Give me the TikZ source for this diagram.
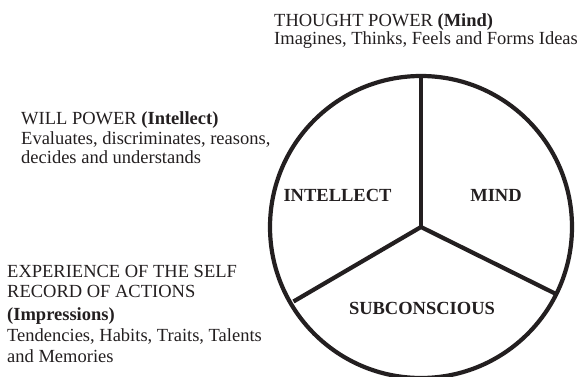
\documentclass[tikz,border=0pt]{standalone}
\usepackage{fontspec}
\setmainfont{Liberation Serif}
\definecolor{ink}{HTML}{231F20}
\begin{document}
\begin{tikzpicture}[x=1pt,y=-1pt,
  txt/.style={anchor=base west,inner sep=0pt,font=\fontsize{18.5}{20}\selectfont,text=ink},
  lbl/.style={anchor=base,inner sep=0pt,font=\fontsize{18.5}{20}\selectfont\bfseries,text=ink},
  ring/.style={draw=ink,line width=4.2pt}]
\useasboundingbox (0,0) rectangle (579,377);
% circle and radii
\coordinate (c) at (421,227);
\draw[ring] (c) circle (151);
\coordinate (t) at (421,76);
\coordinate (r) at (555,293.5);
\coordinate (l) at (293.5,301.5);
\draw[ring] (c) -- (t);
\draw[ring,line join=miter] (l) -- (c) -- (r);
% interior labels
\node[lbl] (intellect) at (337.5,201.7) {INTELLECT};
\node[lbl] (mind) at (496,201.7) {MIND};
\node[lbl] (subc) at (422,314) {SUBCONSCIOUS};
% thought block
\node[txt] (t1) at (274,27) {THOUGHT POWER \textbf{(Mind)}};
\node[txt] (t2) at (274,45) {Imagines, Thinks, Feels and Forms Ideas};
% will block
\node[txt] (w1) at (21,125) {WILL POWER \textbf{(Intellect)}};
\node[txt] (w2) at (21,145) {Evaluates, discriminates, reasons,};
\node[txt] (w3) at (21,163.5) {decides and understands};
% experience block
\node[txt] (e1) at (7,277) {EXPERIENCE OF THE SELF};
\node[txt] (e2) at (7,298) {RECORD OF ACTIONS};
\node[txt] (e3) at (7,320) {\textbf{(Impressions)}};
\node[txt] (e4) at (7,341) {Tendencies, Habits, Traits, Talents};
\node[txt] (e5) at (7,362) {and Memories};
\end{tikzpicture}
\end{document}
